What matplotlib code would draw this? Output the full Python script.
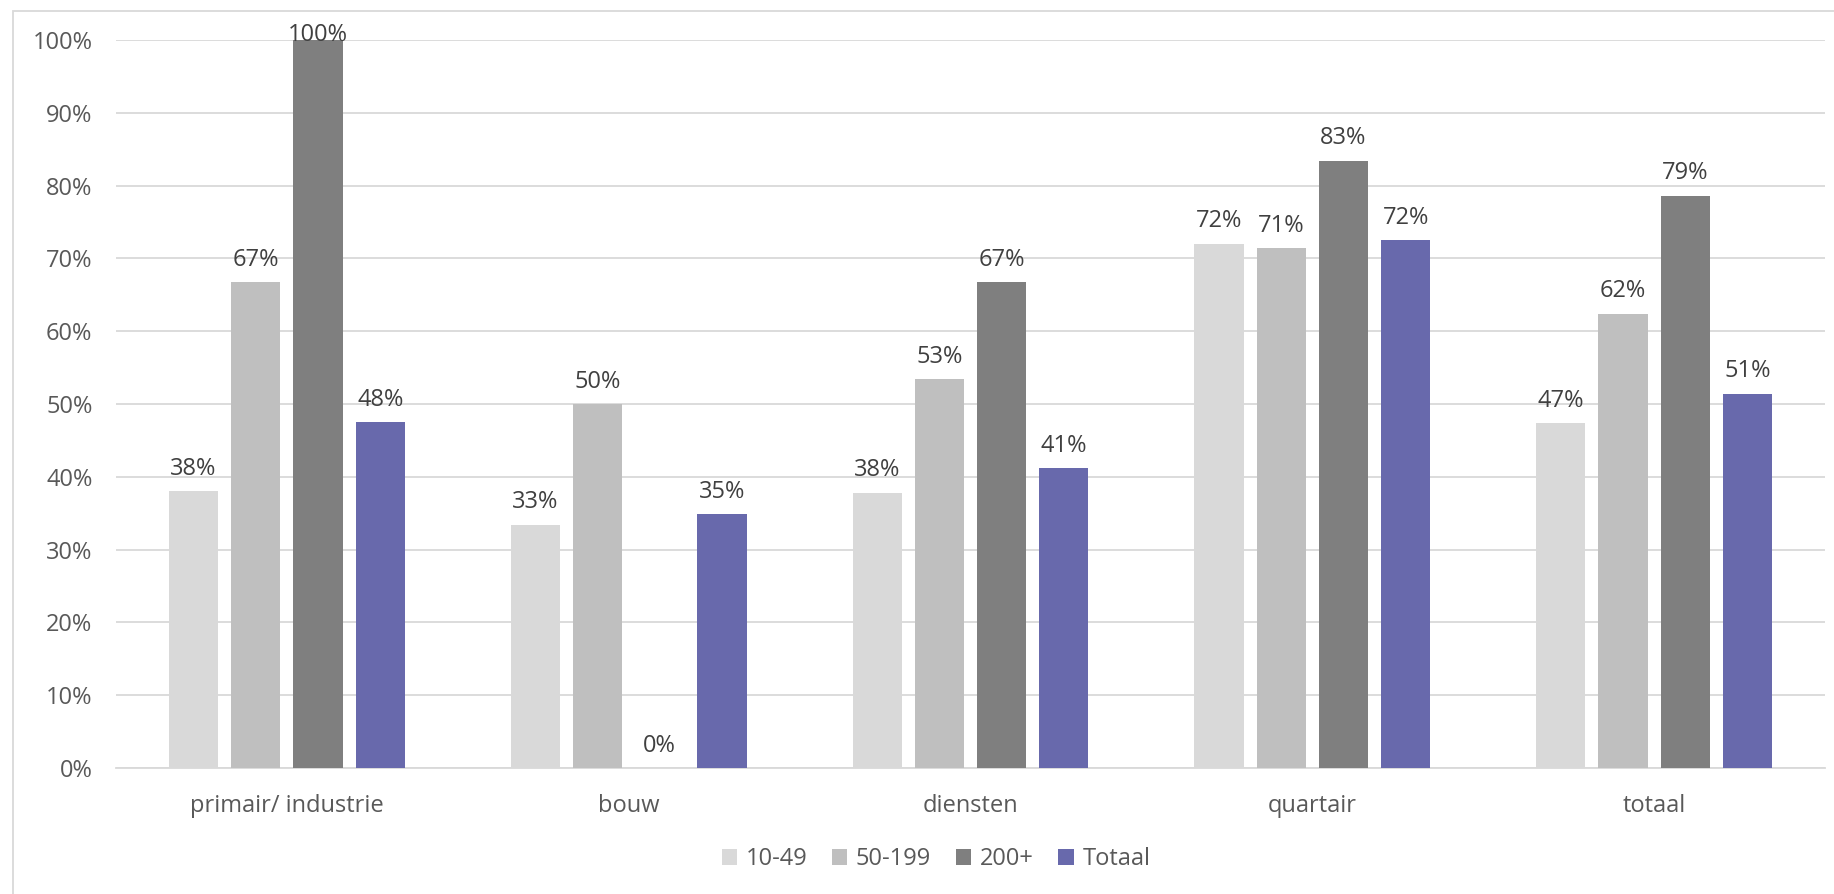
import matplotlib
matplotlib.use("Agg")
import matplotlib.pyplot as plt
import numpy as np
from matplotlib.patches import Rectangle

plt.rcParams['font.family'] = ['Open Sans', 'DejaVu Sans']

categories = ["primair/ industrie", "bouw", "diensten", "quartair", "totaal"]
series_names = ["10-49", "50-199", "200+", "Totaal"]
v_10_49 = [0.38, 0.334, 0.378, 0.72, 0.474]
v_50_199 = [0.667, 0.50, 0.534, 0.714, 0.624]
v_200 = [1.00, 0.0, 0.667, 0.834, 0.786]
v_totaal = [0.475, 0.349, 0.412, 0.725, 0.514]
series = [v_10_49, v_50_199, v_200, v_totaal]
colors = ["#D9D9D9", "#BFBFBF", "#7F7F7F", "#6869AC"]
yticks = [0, 0.1, 0.2, 0.3, 0.4, 0.5, 0.6, 0.7, 0.8, 0.9, 1.0]

FS = 17

fig = plt.figure(figsize=(18.34, 8.94), dpi=100)
ax = fig.add_axes([116/1834, 1-768/894, (1825-116)/1834, (768-40)/894])

x = np.arange(len(categories))
step = 0.182
width = 0.144
for i, (vals, c, name) in enumerate(zip(series, colors, series_names)):
    pos = x + (i - 1.5) * step
    ax.bar(pos, vals, width=width, color=c, label=name, zorder=3)
    for px, v in zip(pos, vals):
        # labels that would leave the chart frame are pushed down, as in the source
        off = 7.5 if v < 0.95 else -5
        ax.annotate(f"{round(v*100):.0f}%", (px, v), xytext=(0, off), textcoords="offset points",
                    ha="center", va="bottom", fontsize=FS, color="#404040",
                    annotation_clip=False, zorder=4)

ax.set_xlim(-0.5, len(categories) - 0.5)
ax.set_ylim(0, 1.0)
ax.set_yticks(yticks)
ax.set_yticklabels([f"{int(round(t*100))}%" for t in yticks])
ax.set_xticks(x)
ax.set_xticklabels(categories)
ax.tick_params(axis='both', length=0, labelsize=FS, labelcolor="#595959")
ax.tick_params(axis='y', pad=17)
ax.tick_params(axis='x', pad=18.5)
ax.grid(axis='y', color="#D9D9D9", linewidth=1.3, zorder=0)
ax.set_axisbelow(True)
for s in ["top", "right", "left"]:
    ax.spines[s].set_visible(False)
ax.spines["bottom"].set_color("#D9D9D9")
ax.spines["bottom"].set_linewidth(1.3)

leg = fig.legend(loc="center", bbox_to_anchor=(936/1834, 1-859/894), ncol=4, frameon=False,
                 fontsize=FS, handlelength=0.64, handleheight=0.64, handletextpad=0.37,
                 columnspacing=1.05)
for t in leg.get_texts():
    t.set_color("#595959")

fig.patches.append(Rectangle((13/1834, -0.05), 1.1, 1 - 11/894 + 0.05, transform=fig.transFigure,
                             fill=False, edgecolor="#D9D9D9", linewidth=1.3))

fig.savefig("out.png", dpi=100)
